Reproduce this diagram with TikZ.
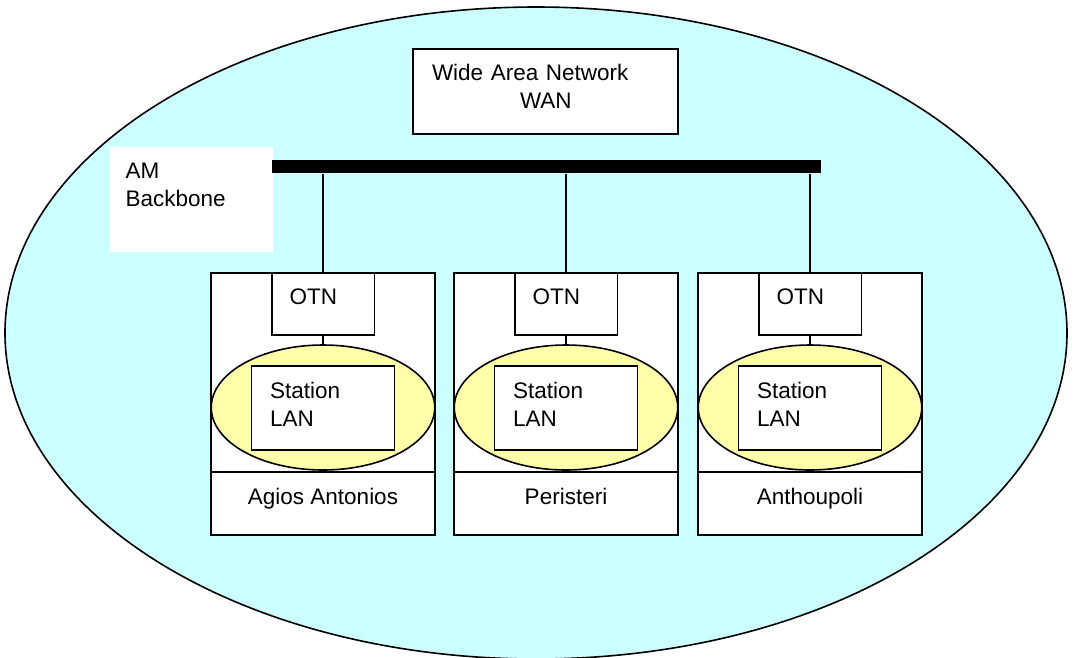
\documentclass[tikz,border=0pt]{standalone}
\usepackage{fontspec}
\setmainfont{Liberation Sans}
\usetikzlibrary{calc}
\usetikzlibrary{shapes.geometric}

\definecolor{netcyan}{RGB}{204,255,255}
\definecolor{lanyellow}{RGB}{255,255,170}

\begin{document}
\begin{tikzpicture}[x=1pt, y=-1pt, line width=1.6pt,
  every node/.style={font=\fontsize{22.5}{28}\selectfont},
  box/.style={draw, fill=white, inner ysep=0pt, align=left},
  ring/.style={draw, ellipse, fill=lanyellow, inner sep=0pt}]
\useasboundingbox (0,0) rectangle (1077,657);
\draw[fill=netcyan] (536,333) ellipse [x radius=531, y radius=326];
\node[fill=white, minimum width=163, minimum height=105, inner xsep=16, inner ysep=0pt,
  text width=131, align=left, text depth=57] (am) at (191,199.5) {AM\\Backbone};
\node[box, minimum width=265, minimum height=85, inner xsep=19, text width=227,
  text depth=39] (wan) at (545.5,91.5) {Wide Area Network\\\hspace*{88pt}WAN};
\node[fill=black, minimum width=549, minimum height=13, inner sep=0pt] (bar) at (546.5,166.5) {};
\foreach \cx/\nm/\town in {323/a/Agios Antonios, 566/p/Peristeri, 810/n/Anthoupoli}
{
 \node[box, minimum width=223.5, minimum height=199, anchor=north] (site\nm) at (\cx,272) {};
 \node[box, minimum width=223.5, minimum height=63, anchor=north, align=center,
   text depth=13] (town\nm) at (\cx,471) {\town};
 \node[box, minimum width=102.6, minimum height=62, anchor=north, inner xsep=18,
   text width=66.6, text depth=14] (otn\nm) at (\cx,272) {OTN};
 \node[ring, minimum width=223.5, minimum height=125] (ring\nm) at (\cx,407.5) {};
 \node[box, minimum width=143, minimum height=84.5, inner xsep=18.5, text width=106,
   text depth=35] (lan\nm) at (\cx,408) {Station\\LAN};
 \draw (bar.south -| otn\nm.north) -- (otn\nm.north);
 \draw (otn\nm.south) -- (ring\nm.north);
}
\end{tikzpicture}
\end{document}
